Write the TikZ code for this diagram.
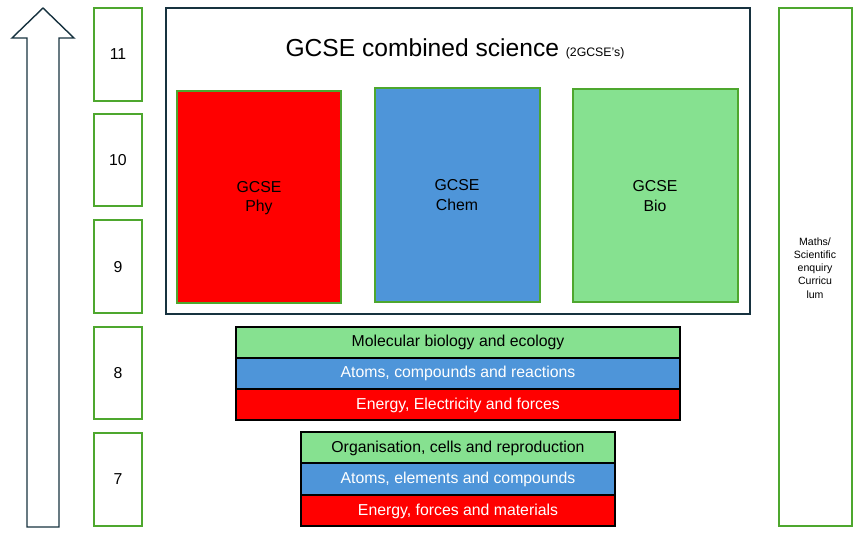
\documentclass[tikz,border=0pt]{standalone}
\usepackage{fontspec}
\setmainfont{Liberation Sans}
\definecolor{phyred}{HTML}{FF0000}
\definecolor{chemblue}{HTML}{4E95D9}
\definecolor{biogreen}{HTML}{86E190}
\definecolor{edgegreen}{HTML}{4EA72E}
\definecolor{arrowdark}{HTML}{17323F}
\begin{document}
\begin{tikzpicture}[x=0.02cm,y=-0.02cm]
                \tikzstyle{every node}=[inner sep=0pt,font=\fontsize{9}{11}\selectfont]
                \tikzstyle{yearbox}=[draw=edgegreen,line width=0.6pt]
                \tikzstyle{barbox}=[draw=black,line width=0.6pt]
                \useasboundingbox (0,0) rectangle (861,542);
                % arrow
                \draw [arrowdark,line width=0.8pt] (27,527) -- (27,38) -- (12,38) -- (43,8) -- (74,38) -- (59,38) -- (59,527) -- cycle;
                % year boxes
                \draw [yearbox] (94,8) rectangle (142,101);
                \node (y11) at (118,54) {11};
                \draw [yearbox] (94,114) rectangle (142,206);
                \node (y10) at (118,160) {10};
                \draw [yearbox] (94,220) rectangle (142,313);
                \node (y9) at (118,267) {9};
                \draw [yearbox] (94,327) rectangle (142,419);
                \node (y8) at (118,373) {8};
                \draw [yearbox] (94,433) rectangle (142,526);
                \node (y7) at (118,479) {7};
                % combined science
                \draw [arrowdark,line width=0.8pt] (166,8) rectangle (750,314);
                \node (title) at (455,49) {\fontsize{14}{16}\selectfont GCSE combined science \fontsize{7}{8}\selectfont(2GCSE’s)};
                \draw [yearbox,fill=phyred] (177,91) rectangle (341,303);
                \node [align=center] (phy) at (259,198) {GCSE\\Phy};
                \draw [yearbox,fill=chemblue] (375,88) rectangle (540,302);
                \node [align=center] (chem) at (457,195) {GCSE\\Chem};
                \draw [yearbox,fill=biogreen] (573,89) rectangle (738,302);
                \node [align=center] (bio) at (655,196) {GCSE\\Bio};
                % year 8
                \draw [barbox,fill=biogreen] (236,327) rectangle (680,358);
                \node (mol) at (458,342) {Molecular biology and ecology};
                \draw [barbox,fill=chemblue] (236,358) rectangle (680,389);
                \node [white] (atoms8) at (458,373) {Atoms, compounds and reactions};
                \draw [barbox,fill=phyred] (236,389) rectangle (680,420);
                \node [white] (energy8) at (458,405) {Energy, Electricity and forces};
                % year 7
                \draw [barbox,fill=biogreen] (301,432) rectangle (615,463);
                \node (org) at (458,448) {Organisation, cells and reproduction};
                \draw [barbox,fill=chemblue] (301,463) rectangle (615,495);
                \node [white] (atoms7) at (458,479) {Atoms, elements and compounds};
                \draw [barbox,fill=phyred] (301,495) rectangle (615,526);
                \node [white] (energy7) at (458,511) {Energy, forces and materials};
                % maths
                \draw [yearbox] (779,8) rectangle (852,526);
                \node [align=center,font=\fontsize{6}{7.5}\selectfont] (maths) at (815,268) {Maths/\\Scientific\\enquiry\\Curricu\\lum};
\end{tikzpicture}
\end{document}
